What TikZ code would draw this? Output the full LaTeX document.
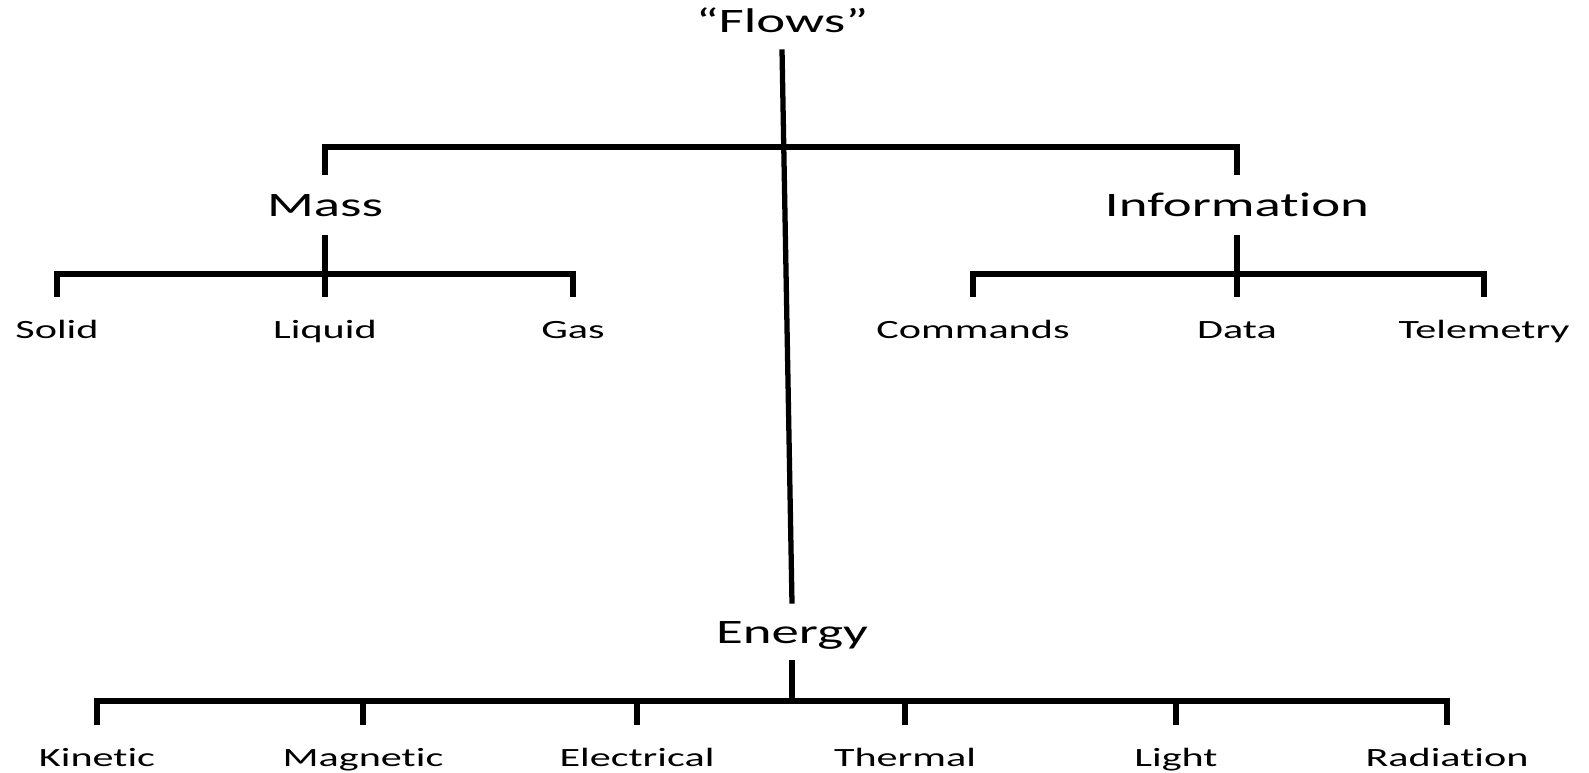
\documentclass[tikz,border=0pt]{standalone}
\usepackage{fontspec}
\setmainfont{Carlito}[FakeStretch=1.6,Ligatures=NoCommon]
\usepackage{tikz}

\tikzset{
  big/.style={font=\fontsize{19.5}{20}\selectfont, text height=0.44cm, text depth=0pt, inner xsep=0pt, inner ysep=0.38cm, anchor=base},
  small/.style={font=\fontsize{15}{16}\selectfont, text height=0.34cm, text depth=0pt, inner xsep=0pt, inner ysep=0.48cm, anchor=base},
  branch/.style={line width=3pt}
}

\begin{document}
\begin{tikzpicture}[x=0.02cm,y=-0.02cm]
\useasboundingbox (0,0) rectangle (1589,772);
% categories
\path (782,32) node (flows) [big,inner ysep=0.34cm] {“Flows”};
\path (325,216) node (mass) [big] {Mass};
\path (1237,216) node (info) [big] {Information};
\path (792,643) node (energy) [big,inner ysep=0.34cm] {Energy};

% mass
\path (57,338) node (solid) [small] {Solid};
\path (325,338) node (liquid) [small] {Liquid};
\path (573,338) node (gas) [small] {Gas};

% information
\path (973,338) node (commands) [small] {Commands};
\path (1237,338) node (data) [small] {Data};
\path (1484,338) node (telemetry) [small] {Telemetry};

% energy
\path (97,766) node (kinetic) [small] {Kinetic};
\path (363,766) node (magnetic) [small] {Magnetic};
\path (637,766) node (electrical) [small] {Electrical};
\path (905,766) node (thermal) [small] {Thermal};
\path (1176,766) node (light) [small] {Light};
\path (1447,766) node (radiation) [small] {Radiation};

\coordinate (topbar) at (0,147);
\coordinate (massbar) at (0,274);
\coordinate (infobar) at (0,274);
\coordinate (energybar) at (0,701);

\draw [branch] (flows.south) to (energy.north);
\draw [branch] (mass.north) -- (mass.north |- topbar) -- (info.north |- topbar) -- (info.north);

\draw [branch] (mass.south) to (mass.south |- massbar);
\draw [branch] (solid.north) -- (solid.north |- massbar) -- (gas.north |- massbar) -- (gas.north);
\draw [branch] (liquid.north) to (liquid.north |- massbar);

\draw [branch] (info.south) to (info.south |- infobar);
\draw [branch] (commands.north) -- (commands.north |- infobar) -- (telemetry.north |- infobar) -- (telemetry.north);
\draw [branch] (data.north) to (data.north |- infobar);

\draw [branch] (energy.south) to (energy.south |- energybar);
\draw [branch] (kinetic.north) -- (kinetic.north |- energybar) -- (radiation.north |- energybar) -- (radiation.north);
\draw [branch] (magnetic.north) to (magnetic.north |- energybar);
\draw [branch] (electrical.north) to (electrical.north |- energybar);
\draw [branch] (thermal.north) to (thermal.north |- energybar);
\draw [branch] (light.north) to (light.north |- energybar);
\end{tikzpicture}
\end{document}
